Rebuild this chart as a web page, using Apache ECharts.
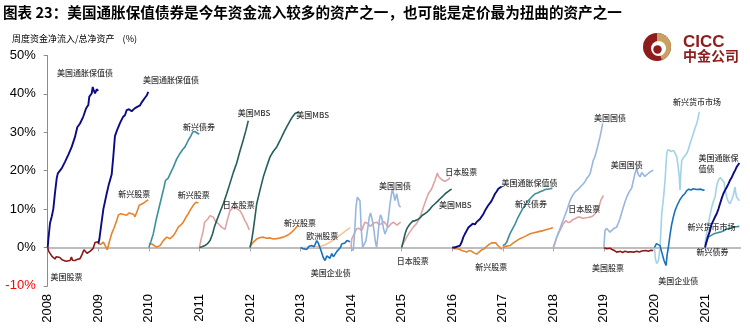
<!DOCTYPE html>
<html>
<head>
<meta charset="utf-8">
<script src="https://cdn.jsdelivr.net/npm/echarts@6/dist/echarts.min.js"></script>
<style>html,body{margin:0;padding:0;background:#fff}#c{width:750px;height:330px}</style>
</head>
<body>
<div id="c"></div>
<script>
// ---------- data (offset within year, % of net assets) ----------
const years = [2008,2009,2010,2011,2012,2013,2014,2015,2016,2017,2018,2019,2020,2021];
const yTicks = [-10,0,10,20,30,40,50];

const USEq2008 = [[0,0],[0.02,-1],[0.05,-1.3],[0.085,-2.3],[0.11,-2.8],[0.144,-3],[0.17,-2.4],[0.204,-2],[0.24,-2.6],[0.283,-3.2],[0.32,-3.3],[0.362,-3.6],[0.4,-3.3],[0.441,-3.4],[0.47,-2.5],[0.49,-3.3],[0.54,-3.4],[0.58,-3.1],[0.639,-2.9],[0.68,-1.8],[0.718,-0.6],[0.75,-1.1],[0.777,-1.5],[0.81,-1.2],[0.836,-1],[0.87,-0.6],[0.896,-0.3],[0.936,1.3],[0.96,0.8],[1.0,1.5]];
const TIPS2008 = [[0,0],[0.012,2],[0.045,6.3],[0.079,8],[0.111,10],[0.144,14.2],[0.178,18],[0.2,19.3],[0.21,18.9],[0.277,20.6],[0.342,22.3],[0.407,24.1],[0.475,26.2],[0.54,28.8],[0.585,31.3],[0.639,32.3],[0.704,34.1],[0.758,36.2],[0.803,37.1],[0.823,39.3],[0.87,40.1],[0.89,41.8],[0.91,41],[0.936,40.1],[0.95,39.6],[0.969,41.2],[1.0,40.8]];
const EMEq2009 = [[0,1],[0.05,0.8],[0.1,1.4],[0.14,0.4],[0.178,-0.6],[0.22,1.5],[0.265,3.6],[0.31,5],[0.364,7],[0.4,8.5],[0.443,8.8],[0.5,8.6],[0.562,8.4],[0.61,9],[0.66,8.8],[0.7,8.6],[0.726,8],[0.77,9.5],[0.811,11],[0.85,11],[0.89,11.5],[0.94,12],[0.989,12.4]];
const TIPS2009 = [[0,1],[0.02,2],[0.06,6],[0.101,10],[0.166,14],[0.21,16.5],[0.265,19],[0.297,23.6],[0.33,29],[0.37,30.5],[0.429,32.4],[0.49,34],[0.53,34.5],[0.562,35.8],[0.607,36],[0.64,36.5],[0.66,35.5],[0.686,35.3],[0.726,36.3],[0.76,36.6],[0.825,37],[0.86,37.8],[0.884,38],[0.924,39],[0.96,39.6],[0.989,40.5]];
const EMEq2010 = [[0,1],[0.024,1.4],[0.06,0.9],[0.089,0.5],[0.156,0.1],[0.221,0.5],[0.287,1.8],[0.354,2.7],[0.39,2.5],[0.419,2.3],[0.487,3.1],[0.53,4],[0.583,5.3],[0.63,5.8],[0.682,6.6],[0.73,7.8],[0.78,8.8],[0.83,10],[0.88,11],[0.93,11.8],[0.979,11.6]];
const EMBond2010 = [[0,0],[0.04,1.5],[0.089,3.6],[0.15,7.5],[0.221,11.4],[0.3,15.7],[0.33,17.5],[0.354,17],[0.38,18],[0.419,18.4],[0.487,21],[0.55,23],[0.617,24.5],[0.67,25.5],[0.716,26.2],[0.783,28],[0.83,29],[0.87,30.1],[0.91,30.2],[0.949,29.9],[0.995,29.5]];
const JPEq2011 = [[0,0],[0.04,2.5],[0.077,4.4],[0.1,6.5],[0.13,7],[0.17,7.5],[0.21,8.3],[0.24,8],[0.275,7.9],[0.31,7],[0.342,6.6],[0.39,6],[0.441,5.3],[0.48,4.8],[0.506,4.7],[0.55,7],[0.605,9.6],[0.65,10.2],[0.704,10.5],[0.75,10],[0.803,9.6],[0.85,8.5],[0.9,7],[0.936,6.2],[0.987,4.6]];
const MBS2011 = [[0,0],[0.05,0.2],[0.111,0.5],[0.16,1],[0.21,1.8],[0.26,3.5],[0.3,5.5],[0.342,7],[0.4,9],[0.473,11.4],[0.54,14],[0.605,16.7],[0.67,19.5],[0.738,22],[0.8,25],[0.868,28],[0.92,30.5],[0.967,33]];
const EMEq2012 = [[0,0],[0.03,0.8],[0.067,1.4],[0.134,2.2],[0.2,2.6],[0.265,2.7],[0.33,2.4],[0.397,2.5],[0.46,2.2],[0.53,2.3],[0.6,2.5],[0.661,2.7],[0.73,3.1],[0.793,3.6],[0.85,4.3],[0.892,4.9],[0.957,5.9]];
const MBS2012 = [[0,0],[0.036,2],[0.07,5],[0.1,8],[0.134,11.4],[0.2,15],[0.265,18.4],[0.33,21],[0.397,23.6],[0.46,25],[0.53,26.2],[0.6,28],[0.661,29.7],[0.73,31.5],[0.793,33],[0.85,34.2],[0.892,34.9],[0.93,35.4],[0.957,35.3]];
const EUEq2013 = [[0,0],[0.1,0],[0.2,0.2],[0.3,0.1],[0.4,0.3],[0.5,0.8],[0.6,1.5],[0.7,2.4],[0.8,3.4],[0.9,4.4],[0.98,5.2]];
const USCorp2013 = [[0,0],[0.05,-0.3],[0.12,-0.5],[0.17,0.3],[0.22,0.5],[0.27,0.2],[0.32,1.8],[0.35,1.2],[0.37,0.8],[0.41,-1],[0.45,-2.6],[0.485,-3.4],[0.52,-2.2],[0.55,-1.8],[0.583,-2.8],[0.617,-1.6],[0.65,-2.4],[0.68,-2],[0.72,-1],[0.75,-1.3],[0.79,0],[0.815,0.9],[0.85,1.4],[0.88,1.2],[0.92,1.8],[0.946,2],[0.98,1.5]];
const JPEq2014 = [[0,0],[0.012,2.2],[0.06,3.5],[0.11,4.9],[0.16,5],[0.21,4.4],[0.24,5.5],[0.275,6.6],[0.31,6.5],[0.34,6.2],[0.38,5.5],[0.407,5.8],[0.45,6.4],[0.506,6.6],[0.55,6],[0.605,6.2],[0.64,6.8],[0.67,6.6],[0.7,6],[0.736,5.3],[0.78,6],[0.835,6.6],[0.87,6.2],[0.908,5.8],[0.94,6.2],[0.98,6.6]];
const UST2014 = [[0,0],[0.044,-0.8],[0.075,5],[0.097,10.5],[0.123,13.1],[0.15,13.5],[0.176,12.2],[0.2,5],[0.23,0],[0.26,-0.5],[0.295,1.8],[0.33,5],[0.36,7.9],[0.385,9],[0.407,8.8],[0.43,6.5],[0.453,4.4],[0.48,1.5],[0.506,0],[0.53,3],[0.558,7],[0.58,8.5],[0.605,7.9],[0.64,5],[0.67,3.5],[0.7,4.5],[0.716,5.3],[0.745,8.5],[0.77,11.4],[0.795,13.5],[0.815,15.3],[0.84,14],[0.868,12.2],[0.902,14],[0.925,12.5],[0.947,11],[0.98,10.5]];
const JPEq2015 = [[0,0],[0.03,1],[0.1,2.7],[0.16,4],[0.231,5.3],[0.28,6],[0.33,7],[0.38,8.5],[0.43,10.5],[0.48,12.3],[0.528,14],[0.56,14.5],[0.595,15.3],[0.63,16.5],[0.66,17.5],[0.706,19.4],[0.73,18.5],[0.76,18],[0.79,17.7],[0.825,17.5],[0.86,17.2],[0.892,17.1],[0.93,17.8],[0.957,18.2]];
const MBS2015 = [[0,0],[0.03,1.5],[0.067,3.5],[0.1,4.8],[0.13,5.5],[0.166,6.1],[0.21,6.8],[0.265,7],[0.31,7.2],[0.363,7.7],[0.41,8.4],[0.46,8.8],[0.51,9.3],[0.56,10],[0.61,10.8],[0.66,11.4],[0.71,12],[0.76,12.7],[0.81,13.3],[0.86,14],[0.91,14.5],[0.95,14.9],[0.99,15.2]];
const EMEq2016 = [[0,0],[0.05,-0.3],[0.089,-0.6],[0.14,-0.4],[0.188,-0.8],[0.24,-1],[0.287,-1.2],[0.33,-0.8],[0.386,-1],[0.43,-1.4],[0.485,-1.7],[0.53,-1.2],[0.583,-0.6],[0.63,-0.4],[0.682,0.3],[0.73,0.8],[0.781,1.2],[0.82,1.5],[0.86,1.2],[0.9,0.6],[0.946,0],[0.98,-0.5]];
const TIPS2016 = [[0,0],[0.05,0],[0.089,0],[0.154,0.5],[0.19,1.5],[0.22,2.7],[0.25,3.5],[0.287,4.4],[0.32,5.2],[0.352,5.7],[0.405,6.2],[0.45,6],[0.48,6.6],[0.516,7],[0.55,7.4],[0.583,7.9],[0.62,8.8],[0.649,9.6],[0.68,10.3],[0.714,11],[0.75,11.6],[0.781,12.2],[0.81,13],[0.847,14],[0.88,14.6],[0.912,15.3],[0.95,15.6],[0.979,15.9]];
const EMEq2017 = [[0,0],[0.05,0.3],[0.144,0.5],[0.21,1.2],[0.277,1.8],[0.34,2.3],[0.41,2.7],[0.47,3.1],[0.54,3.6],[0.6,3.8],[0.67,4],[0.73,4.2],[0.8,4.4],[0.87,4.7],[0.96,5],[0.99,5.2]];
const EMBond2017 = [[0,0.5],[0.04,0.8],[0.079,1.4],[0.11,2.5],[0.144,3.6],[0.19,4.8],[0.243,6.1],[0.29,7.5],[0.342,8.8],[0.39,10],[0.44,11],[0.49,12],[0.54,12.7],[0.59,13.4],[0.64,14],[0.69,14.2],[0.738,14.5],[0.79,14.8],[0.837,15.1],[0.89,15.2],[0.936,15.3],[0.98,15.4]];
const JPEq2018 = [[0,0],[0.05,2],[0.1,3.6],[0.198,6.2],[0.25,7],[0.29,6.5],[0.33,6.6],[0.38,7.2],[0.43,7.5],[0.48,7.9],[0.528,7.9],[0.58,7.6],[0.627,7.7],[0.68,7.8],[0.726,7.9],[0.78,8.2],[0.825,8.8],[0.89,10],[0.937,12.2],[0.989,13.6]];
const UST2018 = [[0,0],[0.03,1],[0.067,2.7],[0.12,4.5],[0.166,6.2],[0.22,8],[0.265,9.6],[0.3,11],[0.33,12.2],[0.38,13.5],[0.43,14.5],[0.48,15],[0.528,15.7],[0.56,16],[0.593,16.6],[0.63,17.2],[0.66,18],[0.7,18.6],[0.726,19.2],[0.76,21],[0.79,22.7],[0.82,23.5],[0.857,25.3],[0.89,27],[0.923,28.8],[0.95,30.5],[0.977,32.3]];
const USEq2019 = [[0,0],[0.05,-0.3],[0.087,-0.4],[0.13,-0.2],[0.17,-0.6],[0.21,-0.8],[0.253,-1.2],[0.29,-0.9],[0.33,-1],[0.37,-1.3],[0.42,-1],[0.47,-1.2],[0.52,-1.1],[0.55,-0.8],[0.6,-1.2],[0.65,-1],[0.7,-1.2],[0.75,-0.9],[0.78,-1.2],[0.83,-0.8],[0.88,-1],[0.93,-0.7],[0.977,-0.8]];
const UST2019 = [[0,0],[0.022,4.4],[0.05,5],[0.087,4.9],[0.12,4],[0.154,4.4],[0.2,5],[0.253,5.3],[0.29,6.5],[0.318,7.5],[0.35,9],[0.384,10.5],[0.42,12],[0.451,13.1],[0.5,14.5],[0.55,15.5],[0.585,17.5],[0.615,19.3],[0.649,20.6],[0.68,19],[0.714,18.4],[0.75,19.5],[0.78,19.2],[0.81,18.5],[0.834,19],[0.87,19.2],[0.912,19.7],[0.95,19.9],[0.977,20.1]];
const MMF2020 = [[0,0],[0.02,-3],[0.045,-4.2],[0.08,-3.4],[0.11,0],[0.13,5],[0.144,8.8],[0.18,13],[0.21,17.5],[0.243,24.5],[0.27,25.5],[0.295,25.8],[0.33,25],[0.374,25.3],[0.41,24.5],[0.441,23.6],[0.47,21],[0.492,18.4],[0.506,14.9],[0.52,19],[0.54,22.7],[0.58,23.5],[0.639,24.5],[0.67,25.5],[0.704,27.1],[0.74,28.5],[0.769,29.7],[0.8,31],[0.836,32.3],[0.86,33.5],[0.887,35.3]];
const USCorp2020 = [[0,0],[0.04,1],[0.077,1.4],[0.11,0.5],[0.144,-1.2],[0.19,-3.4],[0.229,-4.7],[0.25,-2],[0.275,0],[0.31,3.5],[0.342,6.1],[0.375,8],[0.407,9.6],[0.45,11],[0.506,12.5],[0.56,13.5],[0.6,14],[0.639,14.8],[0.68,15.2],[0.72,15],[0.769,15.3],[0.8,14.8],[0.83,15.1],[0.868,14.9],[0.92,15.2],[0.96,14.9],[0.99,15]];
const MMF2021 = [[0,1],[0.03,3.5],[0.065,6.1],[0.1,8.5],[0.132,10.5],[0.165,12],[0.198,13.1],[0.23,16],[0.263,17.5],[0.3,18.2],[0.33,18],[0.376,17],[0.4,15],[0.43,13.1],[0.46,12],[0.494,11.4],[0.53,12.5],[0.56,13.6],[0.593,15.7],[0.61,14],[0.627,13.1],[0.65,13.5],[0.68,12.2]];
const EMBond2021 = [[0,0.5],[0.065,2.7],[0.1,3],[0.164,3.5],[0.23,3.8],[0.297,4],[0.36,4.3],[0.43,4.8],[0.5,5],[0.56,5.3],[0.62,5.4],[0.68,5.5]];
const TIPS2021 = [[0,0],[0.05,2.5],[0.099,4.4],[0.13,6],[0.164,7],[0.2,8],[0.231,8.8],[0.265,10],[0.297,11.4],[0.33,12.8],[0.362,14],[0.4,15],[0.43,15.7],[0.46,16.5],[0.494,17.5],[0.53,18.3],[0.56,19.2],[0.6,20.2],[0.627,21],[0.66,21.6],[0.68,22]];

// annotation labels: [text, year, value]
const labelTexts = ['美国通胀保值债','美国通胀保值债','新兴债券','美国MBS','美国MBS','新兴股票','新兴股票','日本股票','美国股票','新兴股票','欧洲股票','美国企业债','美国国债','日本股票','美国MBS','日本股票','美国通胀保值债','新兴债券','新兴股票','美国国债','日本股票','美国国债','美国股票','新兴货币市场','美国企业债','新兴货币市场','新兴债券'];
const labelX = [2008.74,2010.44,2010.99,2012.08,2013.24,2009.71,2010.89,2011.78,2008.37,2012.99,2013.43,2013.6,2014.87,2016.18,2016.06,2015.22,2017.53,2017.56,2016.77,2019.12,2018.61,2019.45,2019.08,2020.84,2020.47,2021.13,2021.15];
const labelY = [45.5,43.6,31.4,35.0,34.5,14.0,13.7,11.1,-7.6,6.4,3.1,-6.6,15.9,19.8,11.1,-3.5,16.9,11.4,-5.0,33.7,10.0,21.5,-5.2,37.8,-8.7,5.4,-1.2];
const twoLineLabel = ['美国通胀保\n值债', 2020.87, 21.9];

// ---------- styling ----------
const COL = {tips:'#0B0B86', useq:'#8E1616', emeq:'#E8832C', embond:'#3D8F9C', mbs:'#255F5C', jpeq:'#E0A3A3', eueq:'#F7C39B', uscorp:'#1672BC', ust:'#98B6DE', mmf:'#A2D2E6'};

const defs = [
  ['美国股票',2008,USEq2008,'useq'],['美国通胀保值债',2008,TIPS2008,'tips'],
  ['新兴股票',2009,EMEq2009,'emeq'],['美国通胀保值债',2009,TIPS2009,'tips'],
  ['新兴股票',2010,EMEq2010,'emeq'],['新兴债券',2010,EMBond2010,'embond'],
  ['日本股票',2011,JPEq2011,'jpeq'],['美国MBS',2011,MBS2011,'mbs'],
  ['新兴股票',2012,EMEq2012,'emeq'],['美国MBS',2012,MBS2012,'mbs'],
  ['欧洲股票',2013,EUEq2013,'eueq'],['美国企业债',2013,USCorp2013,'uscorp'],
  ['日本股票',2014,JPEq2014,'jpeq'],['美国国债',2014,UST2014,'ust'],
  ['日本股票',2015,JPEq2015,'jpeq'],['美国MBS',2015,MBS2015,'mbs'],
  ['新兴股票',2016,EMEq2016,'emeq'],['美国通胀保值债',2016,TIPS2016,'tips'],
  ['新兴股票',2017,EMEq2017,'emeq'],['新兴债券',2017,EMBond2017,'embond'],
  ['日本股票',2018,JPEq2018,'jpeq'],['美国国债',2018,UST2018,'ust'],
  ['美国股票',2019,USEq2019,'useq'],['美国国债',2019,UST2019,'ust'],
  ['新兴货币市场',2020,MMF2020,'mmf'],['美国企业债',2020,USCorp2020,'uscorp'],
  ['新兴货币市场',2021,MMF2021,'mmf'],['新兴债券',2021,EMBond2021,'embond'],['美国通胀保值债',2021,TIPS2021,'tips']
];

const lineSeries = defs.map(([name,start,arr,key]) => ({
  type:'line', name, showSymbol:false, silent:true, animation:false,
  xAxisIndex:0, yAxisIndex:0,
  lineStyle:{color:COL[key], width: key==='tips'?1.9:1.6},
  data: arr.map(p => [start + p[0], p[1]])
}));

const CJK = '"Noto Sans CJK SC", sans-serif';
const labelData = labelTexts.map((t,i)=>({name:t, value:[labelX[i], labelY[i]]}));
labelData.push({name:twoLineLabel[0], value:[twoLineLabel[1], twoLineLabel[2]], label:{position:'right', distance:0, align:'left', lineHeight:11.5}});

const labelSeries = {
  type:'scatter', symbolSize:0, silent:true, animation:false, z:10,
  data: labelData,
  label:{show:true, position:'inside', formatter:p=>p.name, color:'#000', fontSize:8, fontWeight:500, fontFamily:CJK}
};

const chart = echarts.init(document.getElementById('c'), null, {renderer:'canvas'});
chart.setOption({
  animation:false,
  backgroundColor:'#fff',
  grid:{left:47.7, right:9.6, top:55.5, bottom:44.1, containLabel:false},
  xAxis:[{
    type:'value', min:2008, max:2021.7, interval:1, position:'bottom',
    axisLine:{show:false, onZero:false}, axisTick:{show:false}, splitLine:{show:false},
    axisLabel:{rotate:90, margin:8, fontSize:13, color:'#000', fontFamily:'"Liberation Sans", Arial, sans-serif',
      customValues: years, formatter: v => String(Math.round(v))}
  },{
    type:'value', min:2008, max:2021.7, interval:1, position:'bottom',
    axisLine:{show:true, onZero:true, lineStyle:{color:'#A8A8A8', width:1.6}},
    axisTick:{show:true, length:4, inside:false, customValues: years, lineStyle:{color:'#A8A8A8', width:1}},
    axisLabel:{show:false}, splitLine:{show:false}
  }],
  yAxis:{
    type:'value', min:-10, max:50, interval:10,
    axisLine:{show:true, onZero:false, lineStyle:{color:'#8C8C8C', width:1}},
    axisTick:{show:true, length:4, inside:false, lineStyle:{color:'#8C8C8C'}},
    splitLine:{show:false},
    axisLabel:{margin:12, fontSize:13, fontFamily:'"Liberation Sans", Arial, sans-serif',
      color: v => (Number(v) < 0 ? '#FF0000' : '#000'), formatter: v => v + '%', customValues: yTicks}
  },
  series: lineSeries.concat([labelSeries]),
  graphic:[
    {type:'text', left:3, top:5, style:{text:'图表 23：美国通胀保值债券是今年资金流入较多的资产之一，也可能是定价最为扭曲的资产之一', font:'bold 14.6px ' + CJK, fill:'#000'}},
    {type:'text', left:12, top:34, style:{text:'周度资金净流入/总净资产    (%)', font:'9px ' + CJK, fill:'#000'}},
    {type:'group', left:643, top:33, children:[
      {type:'circle', shape:{cx:14.5, cy:13.5, r:14}, style:{fill:'#8E1C1C'}},
      {type:'sector', shape:{cx:14.5, cy:13.5, r0:0, r:14, startAngle:-Math.PI/2, endAngle:Math.PI/2.6}, style:{fill:'#C9A064'}},
      {type:'circle', shape:{cx:16, cy:15, r:7.5}, style:{fill:'#fff'}},
      {type:'circle', shape:{cx:15, cy:16, r:4.2}, style:{fill:'#8E1C1C'}}
    ]},
    {type:'text', left:683, top:34, style:{text:'CICC', font:'bold 17px "Liberation Sans", Arial, sans-serif', fill:'#8E1C1C'}},
    {type:'text', left:683, top:49, style:{text:'中金公司', font:'bold 14px ' + CJK, fill:'#8E1C1C'}}
  ]
});
</script>
</body>
</html>
